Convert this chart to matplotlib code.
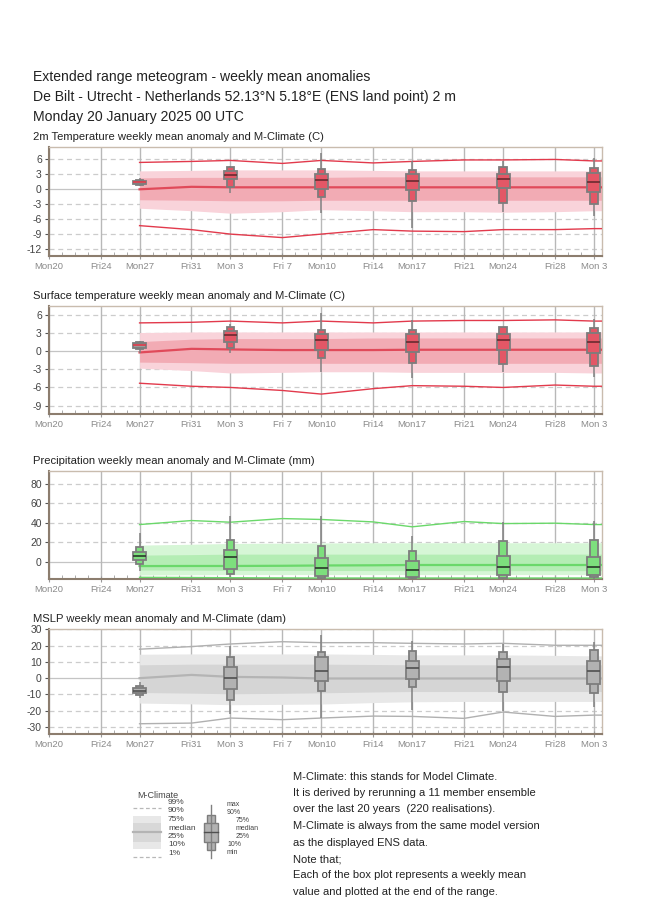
import matplotlib
matplotlib.use("Agg")
import matplotlib.pyplot as plt
import matplotlib.dates as mdates
from matplotlib.patches import Rectangle
import pandas as pd
import numpy as np

plt.rcParams['font.family'] = ['Liberation Sans', 'DejaVu Sans']

# ---------------- data ----------------
title_lines = ["Extended range meteogram - weekly mean anomalies",
               "De Bilt - Utrecht - Netherlands 52.13°N 5.18°E (ENS land point) 2 m",
               "Monday 20 January 2025 00 UTC"]

panel_titles = ["2m Temperature weekly mean anomaly and M-Climate (C)",
                "Surface temperature weekly mean anomaly and M-Climate (C)",
                "Precipitation weekly mean anomaly and M-Climate (mm)",
                "MSLP weekly mean anomaly and M-Climate (dam)"]

tick_dates = ["2025-01-20", "2025-01-24", "2025-01-27", "2025-01-31", "2025-02-03",
              "2025-02-07", "2025-02-10", "2025-02-14", "2025-02-17", "2025-02-21",
              "2025-02-24", "2025-02-28", "2025-03-03"]
tick_labels = ["Mon20", "Fri24", "Mon27", "Fri31", "Mon 3", "Fri 7", "Mon10", "Fri14",
               "Mon17", "Fri21", "Mon24", "Fri28", "Mon 3"]

clim_dates = ["2025-01-27", "2025-01-31", "2025-02-03", "2025-02-07", "2025-02-10",
              "2025-02-14", "2025-02-17", "2025-02-21", "2025-02-24", "2025-02-28", "2025-03-03"]
box_dates = ["2025-01-27", "2025-02-03", "2025-02-10", "2025-02-17", "2025-02-24", "2025-03-03"]

# M-Climate percentiles (1, 10, 25, 50, 75, 90, 99) at clim_dates
t2_p01 = [-7.3, -8.1, -9.0, -9.7, -9.0, -8.1, -8.4, -8.5, -8.1, -8.1, -7.9]
t2_p10 = [-3.8, -4.3, -4.8, -4.5, -4.1, -4.3, -4.5, -4.5, -4.6, -4.5, -4.3]
t2_p25 = [-2.1, -2.2, -2.3, -2.3, -2.2, -2.2, -2.2, -2.2, -2.2, -2.2, -2.2]
t2_p50 = [0.0, 0.5, 0.4, 0.4, 0.4, 0.4, 0.4, 0.4, 0.4, 0.4, 0.4]
t2_p75 = [2.3, 2.4, 2.4, 2.4, 2.4, 2.5, 2.5, 2.5, 2.5, 2.5, 2.5]
t2_p90 = [3.7, 3.8, 3.9, 3.9, 3.9, 3.8, 3.7, 3.7, 3.7, 3.7, 3.7]
t2_p99 = [5.4, 5.6, 5.8, 5.2, 5.8, 5.3, 5.6, 5.9, 5.9, 6.0, 5.7]
# ENS weekly boxes (min, 10, 25, median, 75, 90, max)
t2_box = [[0.6, 0.8, 1.0, 1.4, 1.7, 1.9, 2.2],
          [-0.7, 0.5, 2.0, 2.9, 3.7, 4.5, 4.7],
          [-4.7, -1.5, 0.1, 1.9, 3.1, 4.0, 7.3],
          [-7.8, -2.3, -0.2, 1.7, 3.0, 3.9, 5.7],
          [-4.5, -2.8, 0.3, 2.0, 3.1, 4.5, 5.7],
          [-5.3, -2.9, -0.6, 1.5, 3.2, 4.2, 6.2]]

skt_p01 = [-5.3, -5.8, -6.0, -6.5, -7.1, -6.2, -5.7, -5.8, -6.0, -5.6, -5.8]
skt_p10 = [-2.8, -3.2, -3.6, -3.5, -3.4, -3.4, -3.5, -3.5, -3.5, -3.5, -3.6]
skt_p25 = [-1.8, -1.9, -2.0, -2.0, -2.0, -2.0, -2.0, -2.0, -2.0, -2.0, -2.0]
skt_p50 = [-0.2, 0.4, 0.3, 0.2, 0.2, 0.2, 0.25, 0.25, 0.25, 0.25, 0.25]
skt_p75 = [1.6, 2.0, 2.1, 2.1, 2.1, 2.2, 2.2, 2.2, 2.2, 2.2, 2.2]
skt_p90 = [3.1, 3.2, 3.2, 3.2, 3.2, 3.2, 3.2, 3.2, 3.2, 3.2, 3.2]
skt_p99 = [4.7, 4.8, 5.0, 4.7, 5.0, 4.7, 5.0, 5.1, 5.1, 5.2, 5.0]
skt_box = [[-0.3, 0.3, 0.5, 1.1, 1.4, 1.5, 1.7],
           [-0.3, 0.6, 1.6, 2.7, 3.3, 4.0, 4.5],
           [-3.5, -1.2, 0.2, 1.8, 2.9, 3.6, 6.3],
           [-4.5, -2.0, -0.1, 1.6, 2.8, 3.6, 5.2],
           [-3.4, -2.1, 0.2, 1.8, 2.9, 4.0, 4.1],
           [-4.3, -2.4, -0.3, 1.5, 3.0, 3.8, 5.4]]

tp_p01 = [-15.6, -15.8, -16.0, -16.2, -16.3, -16.3, -16.3, -16.3, -16.3, -16.3, -16.3]
tp_p10 = [-13.2, -13.0, -12.8, -12.8, -12.8, -12.8, -12.8, -12.8, -12.8, -12.8, -12.8]
tp_p25 = [-8.1, -8.3, -8.5, -8.5, -8.6, -8.7, -8.8, -8.8, -8.8, -8.8, -8.8]
tp_p50 = [-4.1, -4.0, -4.0, -3.8, -3.5, -3.3, -3.0, -3.0, -3.0, -3.0, -3.0]
tp_p75 = [7.1, 7.6, 8.1, 8.1, 8.1, 8.1, 8.1, 8.1, 8.1, 8.1, 8.1]
tp_p90 = [17.3, 18.2, 19.0, 19.3, 19.5, 19.7, 19.7, 19.7, 19.7, 19.7, 19.7]
tp_p99 = [38.3, 42.4, 40.7, 44.4, 43.5, 41.0, 36.0, 41.4, 39.3, 39.7, 38.3]
tp_box = [[-9.2, -2.4, 2.0, 6.1, 10.5, 14.9, 29.8],
          [-14.9, -12.5, -7.5, 4.7, 12.2, 22.4, 46.8],
          [-18.0, -16.6, -14.2, -6.4, 3.7, 16.6, 46.8],
          [-18.0, -16.6, -14.9, -8.1, 1.4, 11.5, 26.4],
          [-18.0, -15.9, -13.6, -5.4, 6.4, 21.0, 40.7],
          [-18.0, -15.6, -13.2, -5.4, 5.1, 22.4, 41.7]]

msl_p01 = [-28.0, -27.6, -24.5, -25.5, -24.5, -23.3, -23.5, -24.7, -20.8, -23.5, -22.7]
msl_p10 = [-15.3, -15.8, -16.3, -16.1, -15.9, -15.0, -14.5, -14.3, -14.3, -14.3, -14.3]
msl_p25 = [-8.8, -9.2, -9.6, -9.3, -9.0, -8.5, -8.2, -8.2, -8.2, -8.2, -8.2]
msl_p50 = [0.0, 2.0, 0.8, 0.4, -0.2, -0.2, -0.2, -0.2, -0.2, -0.2, -0.2]
msl_p75 = [8.2, 8.6, 8.6, 8.6, 8.6, 8.4, 8.2, 8.2, 8.2, 8.2, 8.2]
msl_p90 = [14.7, 14.9, 14.9, 14.9, 14.9, 14.6, 14.3, 14.3, 14.3, 14.0, 13.7]
msl_p99 = [17.8, 19.4, 21.0, 22.4, 21.8, 21.8, 21.4, 21.0, 21.4, 20.2, 20.2]
msl_box = [[-12.2, -10.2, -9.2, -7.8, -6.1, -4.7, -2.4],
           [-22.0, -13.7, -6.7, 0.0, 7.1, 12.9, 19.8],
           [-24.5, -7.8, -2.0, 4.5, 12.7, 15.9, 26.5],
           [-19.8, -5.5, -0.6, 6.1, 10.8, 16.7, 23.0],
           [-20.4, -8.2, -1.6, 7.1, 11.6, 16.3, 21.0],
           [-17.8, -9.2, -3.5, 4.7, 10.8, 17.3, 22.4]]

ylims = [(-13.4, 8.5), (-10.4, 7.5), (-17.3, 93.0), (-34.3, 30.2)]
yticks = [[-12, -9, -6, -3, 0, 3, 6], [-9, -6, -3, 0, 3, 6], [0, 20, 40, 60, 80],
          [-30, -20, -10, 0, 10, 20, 30]]

legend_clim_labels = ["99%", "90%", "75%", "median", "25%", "10%", "1%"]
legend_box_labels = ["max", "90%", "75%", "median", "25%", "10%", "min"]

notes = ["M-Climate: this stands for Model Climate.",
         "It is derived by rerunning a 11 member ensemble",
         "over the last 20 years  (220 realisations).",
         "M-Climate is always from the same model version",
         "as the displayed ENS data.",
         "Note that;",
         "Each of the box plot represents a weekly mean",
         "value and plotted at the end of the range."]

# ---------------- styles ----------------
red = dict(light='#f9d3da', mid='#f2abb4', med='#e04a5a', ext='#e23a4c', box='#e35766', boxmed='#6a2a30')
green = dict(light='#d6f6d6', mid='#b4edb4', med='#6ad86a', ext='#6ad86a', box='#7ddf7d', boxmed='#2a3a2a')
grey = dict(light='#e8e8e8', mid='#d5d5d5', med='#b4b4b4', ext='#b0b0b0', box='#b2b2b2', boxmed='#505050')

panels = [
    (t2_p01, t2_p10, t2_p25, t2_p50, t2_p75, t2_p90, t2_p99, t2_box, red),
    (skt_p01, skt_p10, skt_p25, skt_p50, skt_p75, skt_p90, skt_p99, skt_box, red),
    (tp_p01, tp_p10, tp_p25, tp_p50, tp_p75, tp_p90, tp_p99, tp_box, green),
    (msl_p01, msl_p10, msl_p25, msl_p50, msl_p75, msl_p90, msl_p99, msl_box, grey),
]

W, H = 650, 916
fig = plt.figure(figsize=(W / 100, H / 100), dpi=100)

def fx(px):
    return px / W

def fy(py):
    return 1 - py / H

for i, t in enumerate(title_lines):
    fig.text(fx(33), fy(77 + 20 * i), t, fontsize=10.1, color='#222222', va='center', ha='left')

axes_px = [(147, 256), (306, 414), (471, 579), (629, 734)]
left_px, right_px = 48.7, 601.7

tdates = mdates.date2num(pd.to_datetime(tick_dates))
cdates = mdates.date2num(pd.to_datetime(clim_dates))
bdates = mdates.date2num(pd.to_datetime(box_dates))
x0 = tdates[0]
x1 = tdates[-1] + 0.6

for k, (p01, p10, p25, p50, p75, p90, p99, boxes, col) in enumerate(panels):
    top, bot = axes_px[k]
    ax = fig.add_axes([fx(left_px), fy(bot), fx(right_px - left_px), (bot - top) / H])
    ax.set_xlim(x0, x1)
    ax.set_ylim(*ylims[k])
    fig.text(fx(33), fy(top - 10), panel_titles[k], fontsize=8.1, color='#222222',
             va='center', ha='left')

    # grids
    for yv in yticks[k]:
        if yv == 0:
            ax.axhline(yv, color='#c4c4c4', lw=0.9, zorder=1)
        else:
            ax.axhline(yv, color='#cccccc', lw=0.9, ls=(0, (4, 3)), zorder=1)
    for xv in tdates:
        ax.axvline(xv, color='#b8b8b8', lw=1.0, zorder=1)

    # M-Climate
    xs = np.append(cdates, x1)
    ext = lambda a: np.append(a, a[-1])
    ax.fill_between(xs, ext(p10), ext(p90), color=col['light'], lw=0, zorder=2)
    ax.fill_between(xs, ext(p25), ext(p75), color=col['mid'], lw=0, zorder=2)
    ax.plot(xs, ext(p50), color=col['med'], lw=1.6, zorder=3)
    ax.plot(xs, ext(p01), color=col['ext'], lw=1.0, zorder=3)
    ax.plot(xs, ext(p99), color=col['ext'], lw=1.0, zorder=3)

    # ENS boxes
    for j, (d, b) in enumerate(zip(bdates, boxes)):
        mn, q10, q25, md, q75, q90, mx = b
        fill = col['box']
        medc = col['boxmed']
        if j == 0 and col is red:
            fill = '#9a9a9a'
            medc = '#e03a4a'
        ax.vlines(d, mn, mx, color='#808080', lw=1.1, zorder=4)
        ax.add_patch(Rectangle((d - 0.28, q10), 0.56, q90 - q10, facecolor=fill,
                               edgecolor='#7d7d7d', lw=1.3, zorder=5))
        ax.add_patch(Rectangle((d - 0.5, q25), 1.0, q75 - q25, facecolor=fill,
                               edgecolor='#7d7d7d', lw=1.3, zorder=6))
        ax.hlines(md, d - 0.5, d + 0.5, color=medc, lw=1.2, zorder=7)

    # axes styling
    ax.set_yticks(yticks[k])
    ax.set_yticklabels([str(v) for v in yticks[k]])
    ax.tick_params(axis='y', labelsize=7.5, labelcolor='#444444', color='#555555',
                   length=3, width=0.8, pad=2)
    ax.set_xticks(tdates)
    ax.set_xticklabels(tick_labels)
    ax.xaxis.set_minor_locator(mdates.DayLocator())
    ax.tick_params(axis='x', which='major', labelsize=6.8, labelcolor='#8a8a8a',
                   color='#999999', direction='inout', length=5, width=0.8, pad=2)
    ax.tick_params(axis='x', which='minor', color='#aaaaaa', direction='in', length=3, width=0.7)
    for s in ['left', 'bottom']:
        ax.spines[s].set_color('#8c7d6e')
        ax.spines[s].set_linewidth(1.5)
    for s in ['top', 'right']:
        ax.spines[s].set_color('#c9bcae')
        ax.spines[s].set_linewidth(1.0)
    ax.set_facecolor('white')

# ---------------- legend area ----------------
lg = fig.add_axes([0, 0, 1, 1], facecolor='none')
lg.set_xlim(0, W)
lg.set_ylim(H, 0)
lg.axis('off')

lg.text(137, 796, "M-Climate", fontsize=6.5, color='#444444', ha='left', va='center')
lg.plot([133, 161], [808, 808], color='#b8b8b8', lw=0.9, ls=(0, (3, 2)))
lg.plot([133, 161], [857, 857], color='#b8b8b8', lw=0.9, ls=(0, (3, 2)))
lg.add_patch(Rectangle((133, 816), 28, 33, facecolor='#e8e8e8', lw=0))
lg.add_patch(Rectangle((133, 823), 28, 19, facecolor='#d8d8d8', lw=0))
lg.plot([133, 161], [832, 832], color='#b4b4b4', lw=1.6)
for lbl, yy in zip(legend_clim_labels, [802.5, 811, 819.5, 828, 836.5, 845, 853.5]):
    lg.text(168, yy, lbl, fontsize=6.0, color='#444444', ha='left', va='center')

lg.plot([210.7, 210.7], [805, 858], color='#808080', lw=1.0)
lg.add_patch(Rectangle((207, 815), 7.5, 35, facecolor='#b2b2b2', edgecolor='#7d7d7d', lw=1.0))
lg.add_patch(Rectangle((204, 823), 13.5, 19, facecolor='#b2b2b2', edgecolor='#7d7d7d', lw=1.0))
lg.plot([204, 217.5], [832, 832], color='#505050', lw=1.0)
for lbl, xx, yy in zip(legend_box_labels, [227, 227, 236, 236, 236, 227, 227],
                       [805, 812.5, 820, 828, 836, 845, 853]):
    lg.text(xx, yy, lbl, fontsize=5.0, color='#444444', ha='left', va='center')

for i, line in enumerate(notes):
    lg.text(293, 776.5 + 16.5 * i, line, fontsize=8, color='#222222', ha='left', va='center')

fig.savefig("out.png", dpi=100)
